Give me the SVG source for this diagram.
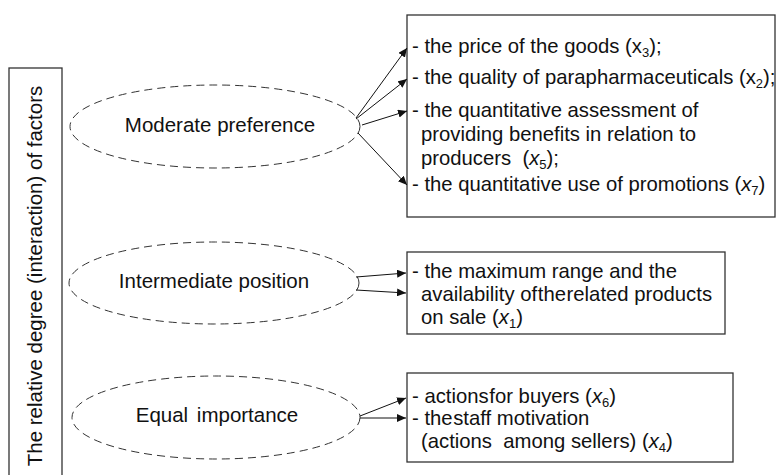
<svg xmlns="http://www.w3.org/2000/svg" width="776" height="475" viewBox="0 0 776 475">
  <style>
    text { font-family: "Liberation Sans", Arial, sans-serif; fill: #111; }
    .lbl { font-size: 20.3px; }
    .oval { font-size: 20.5px; text-anchor: middle; }
    .side { font-size: 20.5px; text-anchor: middle; }
    .sub { font-size: 13px; }
    .box { fill: #fff; stroke: #333; stroke-width: 1.3; }
    .ell { fill: none; stroke: #333; stroke-width: 1; stroke-dasharray: 8 5; }
    .con { stroke: #111; stroke-width: 1; fill: none; marker-end: url(#tip); }
  </style>
  <defs>
    <marker id="tip" markerUnits="userSpaceOnUse" markerWidth="10" markerHeight="8" refX="9" refY="4" orient="auto">
      <path d="M0,0 L9,4 L0,8 Z" fill="#111"/>
    </marker>
  </defs>
  <rect width="776" height="475" fill="#fff"/>

  <!-- vertical axis label -->
  <g id="axis">
    <rect class="box" x="9" y="68" width="53" height="420"/>
    <text class="side" transform="translate(42,276) rotate(-90)">The relative degree (interaction) of factors</text>
  </g>

  <!-- categories -->
  <g id="moderate">
    <ellipse class="ell" cx="215" cy="126.5" rx="145" ry="41.5"/>
    <text class="oval" x="220" y="132">Moderate preference</text>
  </g>
  <g id="intermediate">
    <ellipse class="ell" cx="214" cy="283" rx="145" ry="41"/>
    <text class="oval" x="214" y="288">Intermediate position</text>
  </g>
  <g id="equal">
    <ellipse class="ell" cx="216" cy="417.5" rx="144" ry="41.5"/>
    <text class="oval" x="217" y="422" word-spacing="3">Equal importance</text>
  </g>

  <!-- factor lists -->
  <g id="list-moderate">
    <rect class="box" x="407" y="15" width="368" height="202"/>
    <text class="lbl" x="412" y="53">- the price of the goods (x<tspan class="sub" dy="4">3</tspan><tspan dy="-4">);</tspan></text>
    <text class="lbl" x="412" y="84">- the quality of parapharmaceuticals (x<tspan class="sub" dy="4">2</tspan><tspan dy="-4">);</tspan></text>
    <text class="lbl" x="412" y="117">- the quantitative assessment of</text>
    <text class="lbl" x="421" y="141">providing benefits in relation to</text>
    <text class="lbl" x="421" y="165" xml:space="preserve">producers  (<tspan font-style="italic">x</tspan><tspan class="sub" dy="4">5</tspan><tspan dy="-4">);</tspan></text>
    <text class="lbl" x="412" y="191">- the quantitative use of promotions (<tspan font-style="italic">x</tspan><tspan class="sub" dy="4">7</tspan><tspan dy="-4">)</tspan></text>
  </g>
  <g id="list-intermediate">
    <rect class="box" x="407" y="252" width="318" height="82"/>
    <text class="lbl" x="412" y="278">- the maximum range and the</text>
    <text class="lbl" x="421" y="301">availability <tspan word-spacing="-5">of the related</tspan> products</text>
    <text class="lbl" x="421" y="324">on sale (<tspan font-style="italic">x</tspan><tspan class="sub" dy="4">1</tspan><tspan dy="-4">)</tspan></text>
  </g>
  <g id="list-equal">
    <rect class="box" x="407" y="373" width="326" height="89"/>
    <text class="lbl" x="412" y="403" xml:space="preserve">- <tspan word-spacing="-5">actions for</tspan> buyers (<tspan font-style="italic">x</tspan><tspan class="sub" dy="4">6</tspan><tspan dy="-4">)</tspan></text>
    <text class="lbl" x="412" y="425" xml:space="preserve">- <tspan word-spacing="-5">the staff</tspan> motivation</text>
    <text class="lbl" x="421" y="448" xml:space="preserve">(actions  among sellers) (<tspan font-style="italic">x</tspan><tspan class="sub" dy="4">4</tspan><tspan dy="-4">)</tspan></text>
  </g>

  <!-- connectors -->
  <g id="connectors">
    <line class="con" x1="356" y1="118" x2="407" y2="48"/>
    <line class="con" x1="356" y1="119" x2="407" y2="79"/>
    <line class="con" x1="362" y1="125" x2="407" y2="111"/>
    <line class="con" x1="358" y1="133" x2="407" y2="185"/>
    <line class="con" x1="356" y1="277" x2="406" y2="273"/>
    <line class="con" x1="356" y1="290" x2="406" y2="293"/>
    <line class="con" x1="360" y1="416" x2="406" y2="398"/>
    <line class="con" x1="360" y1="418" x2="406" y2="418"/>
  </g>
</svg>
